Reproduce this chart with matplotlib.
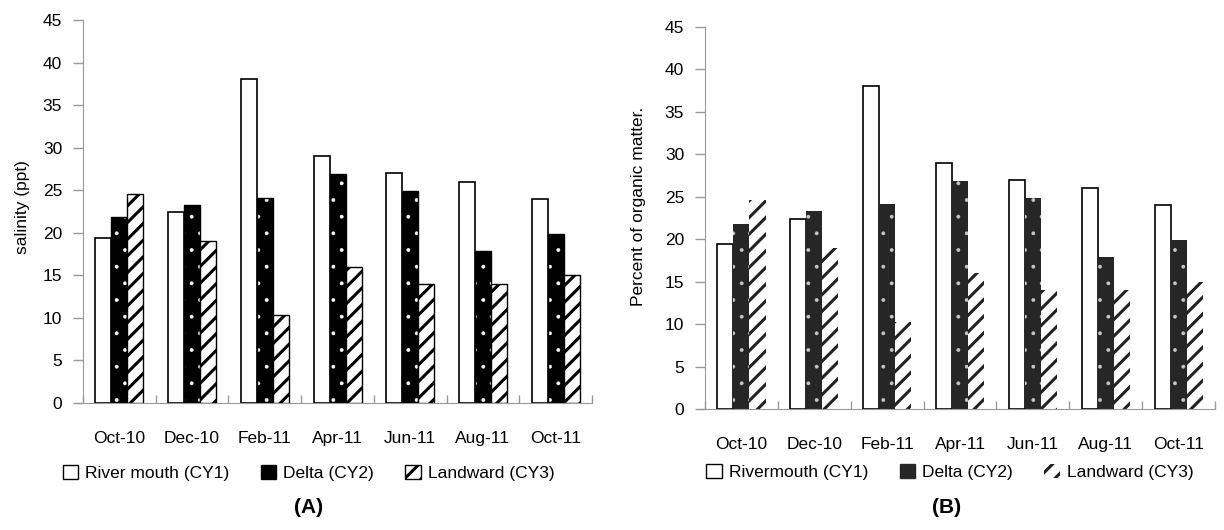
import matplotlib
matplotlib.use("Agg")
import matplotlib.pyplot as plt
from matplotlib.patches import Patch
import numpy as np

months = ["Oct-10", "Dec-10", "Feb-11", "Apr-11", "Jun-11", "Aug-11", "Oct-11"]
cy1 = [19.4, 22.4, 38.1, 29.0, 27.0, 26.0, 24.0]
cy2 = [21.8, 23.3, 24.1, 26.9, 24.9, 17.9, 19.9]
cy3 = [24.6, 19.0, 10.3, 16.0, 14.0, 14.0, 15.0]
yticks = [0, 5, 10, 15, 20, 25, 30, 35, 40, 45]
labels_a = ["River mouth (CY1)", "Delta (CY2)", "Landward (CY3)"]
labels_b = ["Rivermouth (CY1)", "Delta (CY2)", "Landward (CY3)"]

plt.rcParams['font.family'] = ['Liberation Sans', 'DejaVu Sans']
STRIPE_LW = 2.2
DOT_LW = 0.3

fig = plt.figure(figsize=(12.24, 5.30), dpi=100)
axA = fig.add_axes([0.0678, 0.2396, 0.4159, 0.7226])
axB = fig.add_axes([0.576, 0.2283, 0.4167, 0.7208])

x = np.arange(len(months))
w = 0.22
FS = 12.5


def set_hlw(artists, lw):
    for a in artists:
        if hasattr(a, 'set_hatch_linewidth'):
            a.set_hatch_linewidth(lw)


def style_axis(ax):
    ax.set_xlim(-0.5, len(months) - 0.5)
    ax.set_ylim(0, 45)
    ax.set_yticks(yticks)
    ax.set_xticks(x)
    ax.set_xticklabels(months)
    ax.set_xticks(np.arange(len(months) + 1) - 0.5, minor=True)
    ax.tick_params(axis='x', which='major', length=0, pad=20, labelsize=FS)
    ax.tick_params(axis='x', which='minor', direction='in', length=6, color='#999999', width=1)
    ax.tick_params(axis='y', length=7, color='#999999', width=1, pad=8, labelsize=FS)
    for s in ['top', 'right']:
        ax.spines[s].set_visible(False)
    ax.spines['left'].set_color('#999999')
    ax.spines['bottom'].set_color('#999999')
    ax.spines['bottom'].set_bounds(-0.6, len(months) - 0.5)


# Panel A
axA.bar(x - w, cy1, w, facecolor='white', edgecolor='black', linewidth=1.2)
with plt.rc_context({'hatch.linewidth': DOT_LW}):
    b = axA.bar(x, cy2, w, facecolor='black', edgecolor='white', hatch='.', linewidth=0)
set_hlw(b, DOT_LW)
axA.bar(x, cy2, w, fill=False, edgecolor='black', linewidth=1.0)
with plt.rc_context({'hatch.linewidth': STRIPE_LW}):
    b = axA.bar(x + w, cy3, w, facecolor='white', edgecolor='black', hatch='//', linewidth=1.0)
set_hlw(b, STRIPE_LW)
style_axis(axA)
fig.text(0.018, 0.61, "salinity (ppt)", rotation=90, ha='center', va='center', fontsize=FS)

# Panel B
axB.bar(x - w, cy1, w, facecolor='white', edgecolor='black', linewidth=1.2)
with plt.rc_context({'hatch.linewidth': DOT_LW}):
    b = axB.bar(x, cy2, w, facecolor='#262626', edgecolor='#c8c8c8', hatch='.', linewidth=0)
set_hlw(b, DOT_LW)
with plt.rc_context({'hatch.linewidth': STRIPE_LW}):
    b = axB.bar(x + w, cy3, w, facecolor='white', edgecolor='#222222', hatch='//', linewidth=0)
set_hlw(b, STRIPE_LW)
style_axis(axB)
fig.text(0.522, 0.61, "Percent of organic matter.", rotation=90, ha='center', va='center', fontsize=FS)

# Legends
with plt.rc_context({'hatch.linewidth': STRIPE_LW}):
    hA = [Patch(facecolor='white', edgecolor='black', linewidth=1.0),
          Patch(facecolor='black', edgecolor='black', linewidth=1.0),
          Patch(facecolor='white', edgecolor='black', hatch='//', linewidth=1.0)]
    hB = [Patch(facecolor='white', edgecolor='black', linewidth=1.0),
          Patch(facecolor='#262626', edgecolor='#262626', linewidth=1.0),
          Patch(facecolor='white', edgecolor='#222222', hatch='//', linewidth=0)]
    fig.legend(hA, labels_a, loc='center', bbox_to_anchor=(0.252, 0.108), ncol=3, frameon=False,
               fontsize=FS, handlelength=0.9, handleheight=0.9, handletextpad=0.4, columnspacing=1.8)
    fig.legend(hB, labels_b, loc='center', bbox_to_anchor=(0.776, 0.11), ncol=3, frameon=False,
               fontsize=FS, handlelength=0.9, handleheight=0.9, handletextpad=0.4, columnspacing=1.8)

fig.text(0.252, 0.042, "(A)", ha='center', va='center', fontsize=15, fontweight='bold')
fig.text(0.773, 0.042, "(B)", ha='center', va='center', fontsize=15, fontweight='bold')

with plt.rc_context({'hatch.linewidth': STRIPE_LW}):
    fig.savefig("out.png", dpi=100)
